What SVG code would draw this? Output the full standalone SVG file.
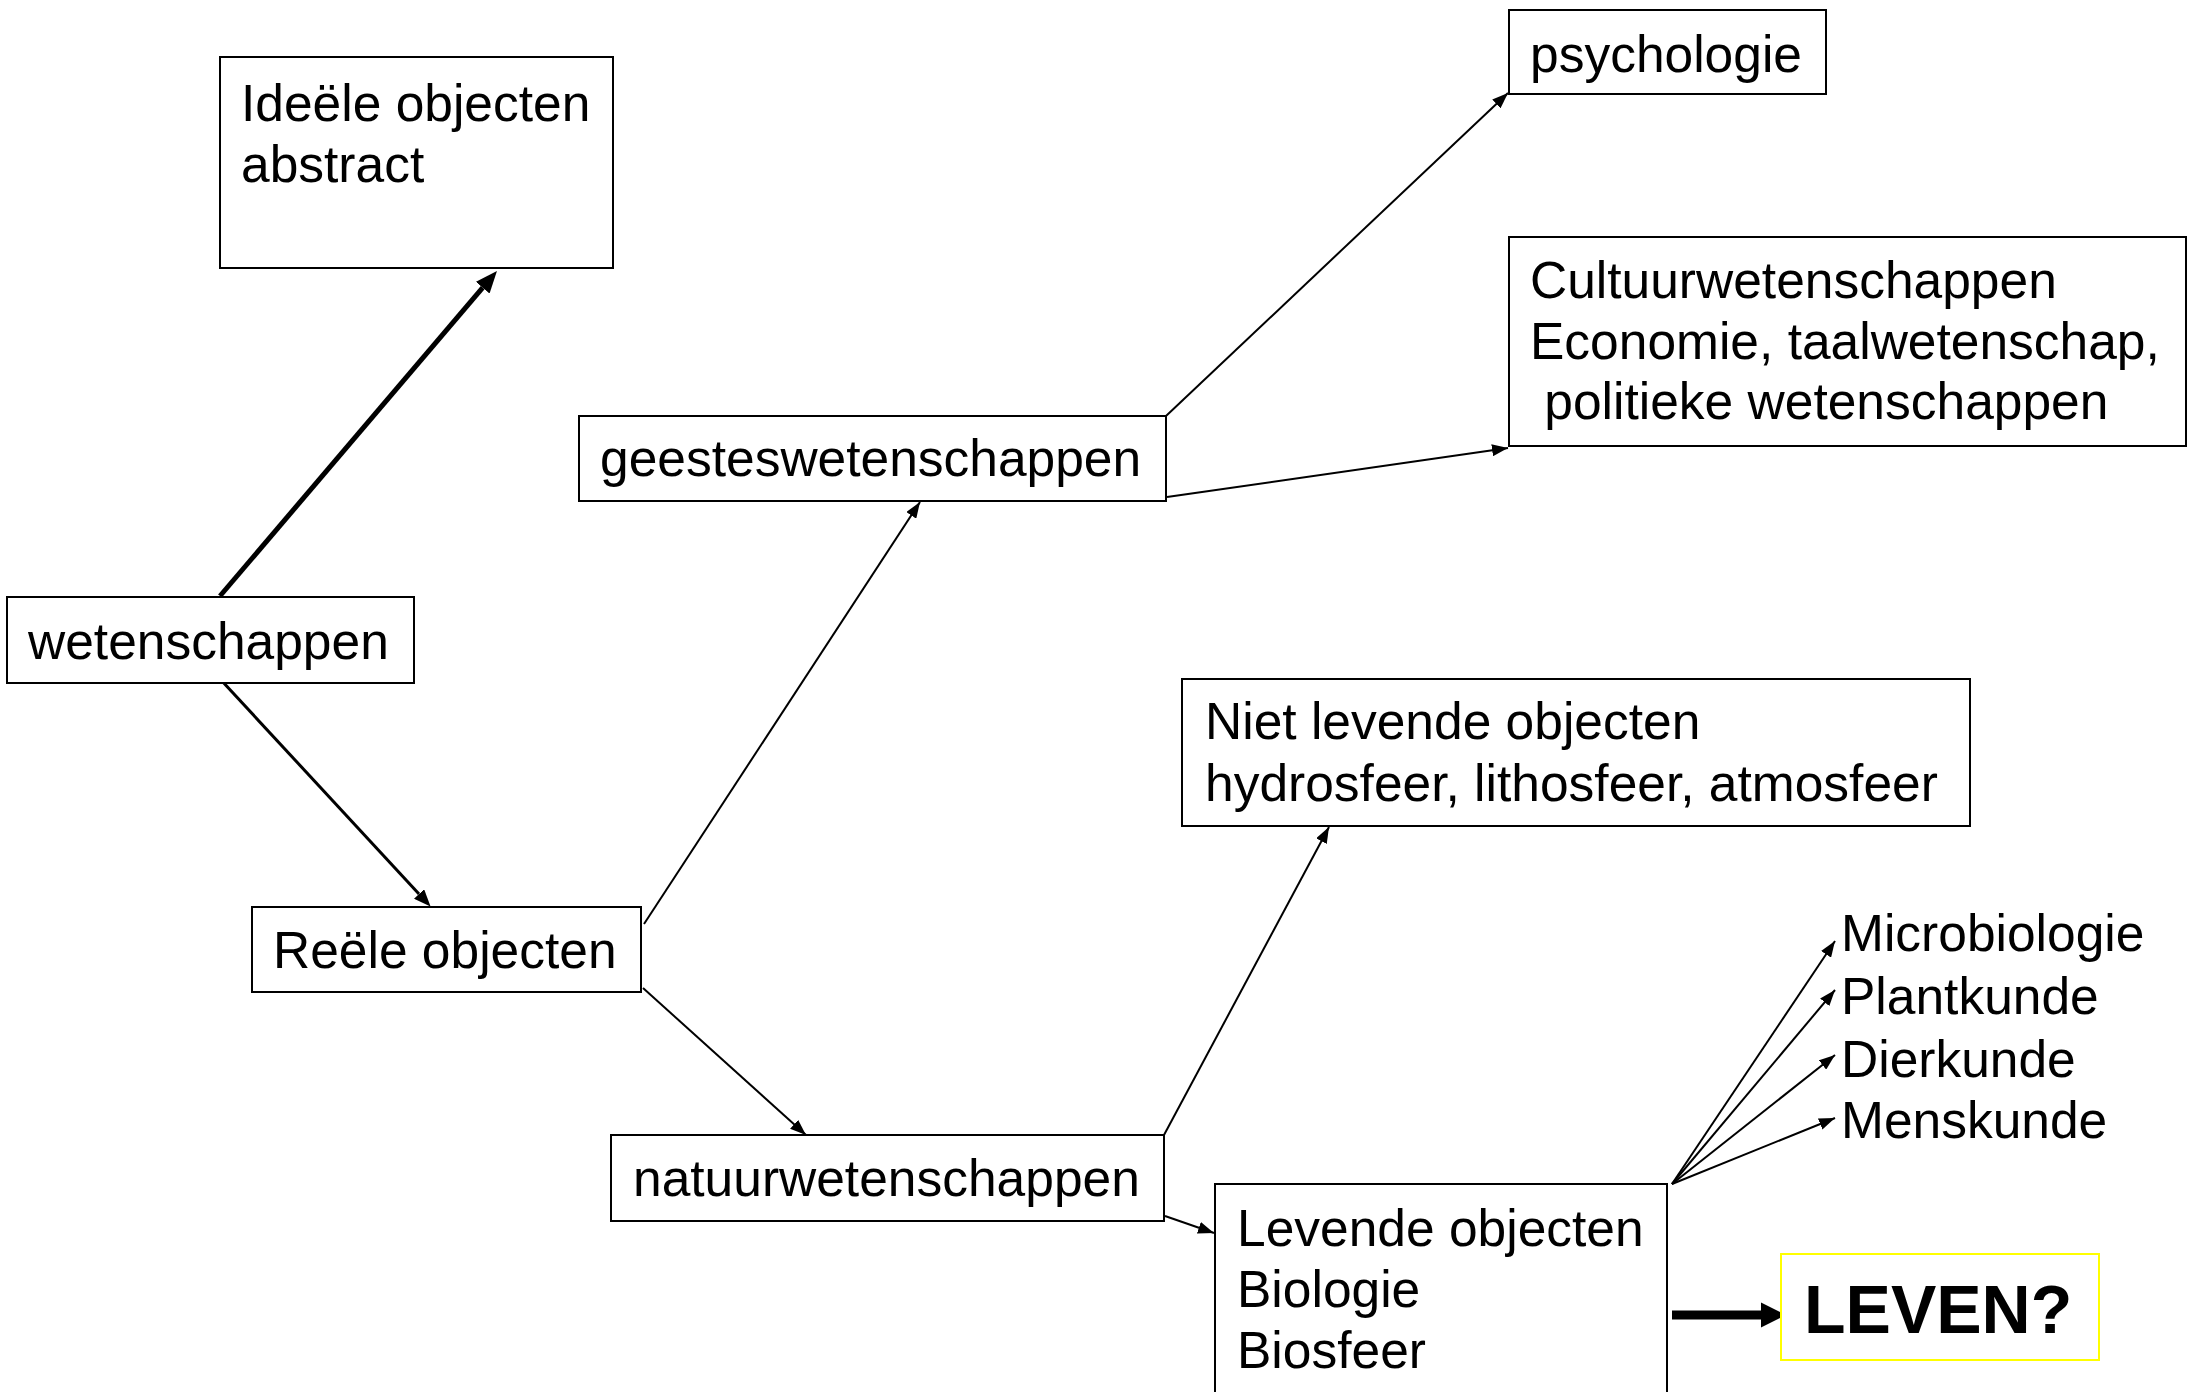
<svg xmlns="http://www.w3.org/2000/svg" width="2194" height="1392" viewBox="0 0 2194 1392">
<style>
.box{fill:#fff;stroke:#000;stroke-width:2}
.t{font-family:"Liberation Sans",Arial,sans-serif;font-size:51.5px;fill:#000}
.c{stroke:#000;stroke-width:2;fill:none}
</style>
<defs>
<marker id="ah" markerUnits="userSpaceOnUse" markerWidth="16" markerHeight="12" refX="16" refY="6" orient="auto"><path d="M0,0 L16,6 L0,12 z" fill="#000"/></marker>
<marker id="ahm" markerUnits="userSpaceOnUse" markerWidth="17" markerHeight="14" refX="0" refY="7" orient="auto"><path d="M0,0 L17,7 L0,14 z" fill="#000"/></marker>
<marker id="ahl" markerUnits="userSpaceOnUse" markerWidth="22" markerHeight="18" refX="0" refY="9" orient="auto"><path d="M0,0 L22,9 L0,18 z" fill="#000"/></marker>
</defs>
<rect width="2194" height="1392" fill="#fff"/>
<g id="connectors">
<line x1="220" y1="596" x2="482.7" y2="287.7" stroke="#000" stroke-width="5" marker-end="url(#ahl)"/>
<line x1="221" y1="680" x2="419" y2="894" stroke="#000" stroke-width="3" marker-end="url(#ahm)"/>
<line class="c" x1="644" y1="924" x2="920" y2="502" marker-end="url(#ah)"/>
<line class="c" x1="643" y1="988" x2="806" y2="1135" marker-end="url(#ah)"/>
<line class="c" x1="1166" y1="416" x2="1508" y2="93" marker-end="url(#ah)"/>
<line class="c" x1="1167" y1="497" x2="1508" y2="448" marker-end="url(#ah)"/>
<line class="c" x1="1164" y1="1135" x2="1329" y2="827" marker-end="url(#ah)"/>
<line class="c" x1="1165" y1="1216" x2="1214" y2="1233" marker-end="url(#ah)"/>
<line class="c" x1="1672" y1="1184" x2="1835" y2="941" marker-end="url(#ah)"/>
<line class="c" x1="1672" y1="1184" x2="1835" y2="990" marker-end="url(#ah)"/>
<line class="c" x1="1672" y1="1184" x2="1835" y2="1055" marker-end="url(#ah)"/>
<line class="c" x1="1672" y1="1184" x2="1835" y2="1118" marker-end="url(#ah)"/>
<line x1="1672" y1="1315" x2="1762" y2="1315" stroke="#000" stroke-width="9"/>
<path d="M1761,1302.5 L1786,1315 L1761,1327.5 z" fill="#000"/>
</g>
<g id="ideele"><rect class="box" x="220" y="57" width="393" height="211"/><text class="t" x="241" y="121">Ideële objecten</text><text class="t" x="241" y="182">abstract</text></g>
<g id="wetenschappen"><rect class="box" x="7" y="597" width="407" height="86"/><text class="t" x="28" y="659">wetenschappen</text></g>
<g id="geesteswetenschappen"><rect class="box" x="579" y="416" width="587" height="85"/><text class="t" x="600" y="476">geesteswetenschappen</text></g>
<g id="psychologie"><rect class="box" x="1509" y="10" width="317" height="84"/><text class="t" x="1530" y="72">psychologie</text></g>
<g id="cultuur"><rect class="box" x="1509" y="237" width="677" height="209"/><text class="t" x="1530" y="298">Cultuurwetenschappen</text><text class="t" x="1530" y="359">Economie, taalwetenschap,</text><text class="t" x="1530" y="419" xml:space="preserve"> politieke wetenschappen</text></g>
<g id="reele"><rect class="box" x="252" y="907" width="389" height="85"/><text class="t" x="273" y="968">Reële objecten</text></g>
<g id="natuurwetenschappen"><rect class="box" x="611" y="1135" width="553" height="86"/><text class="t" x="633" y="1196">natuurwetenschappen</text></g>
<g id="nietlevende"><rect class="box" x="1182" y="679" width="788" height="147"/><text class="t" x="1205" y="739">Niet levende objecten</text><text class="t" x="1205" y="801">hydrosfeer, lithosfeer, atmosfeer</text></g>
<g id="levende"><rect class="box" x="1215" y="1184" width="452" height="230"/><text class="t" x="1237" y="1246">Levende objecten</text><text class="t" x="1237" y="1307">Biologie</text><text class="t" x="1237" y="1368">Biosfeer</text></g>
<g id="microbiologie"><text class="t" x="1841" y="951">Microbiologie</text></g>
<g id="plantkunde"><text class="t" x="1841" y="1014">Plantkunde</text></g>
<g id="dierkunde"><text class="t" x="1841" y="1077">Dierkunde</text></g>
<g id="menskunde"><text class="t" x="1841" y="1138">Menskunde</text></g>
<g id="leven"><rect x="1781" y="1254" width="318" height="106" fill="#fff" stroke="#ffff00" stroke-width="2"/><text x="1804" y="1333" font-family="'Liberation Sans',Arial,sans-serif" font-size="68" font-weight="bold" fill="#000">LEVEN?</text></g>
</svg>
